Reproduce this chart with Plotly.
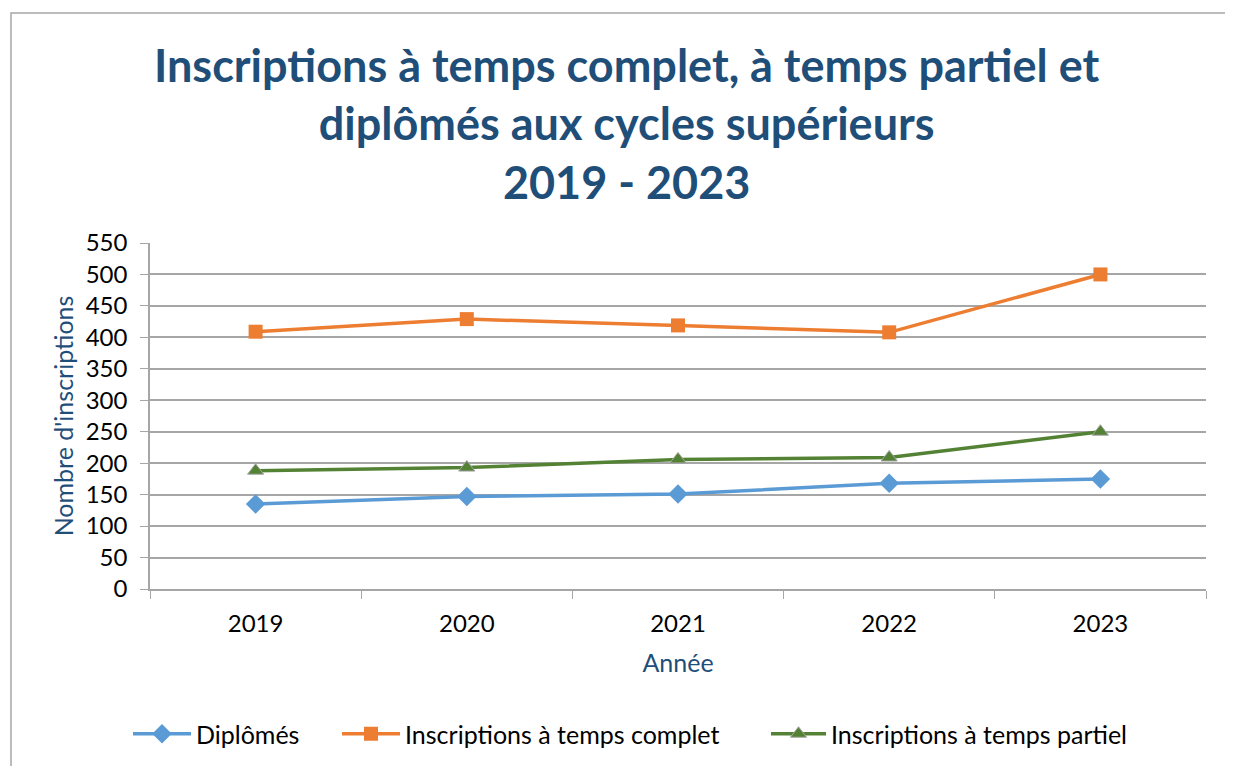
import plotly.graph_objects as go

years = ["2019", "2020", "2021", "2022", "2023"]
diplomes = [135, 147, 151, 168, 175]
temps_complet = [409, 429, 419, 408, 500]
temps_partiel = [188, 193, 206, 209, 250]
y_ticks = list(range(0, 551, 50))

FONT = "Lato"
TITLE_BLUE = "#1F4E79"
GRID = "#A6A6A6"

fig = go.Figure()
fig.add_trace(go.Scatter(x=years, y=diplomes, name="Diplômés", mode="lines+markers", legend="legend",
                         line=dict(color="#5B9BD5", width=3.5),
                         marker=dict(symbol="diamond", size=15, color="#5B9BD5")))
fig.add_trace(go.Scatter(x=years, y=temps_complet, name="Inscriptions à temps complet", mode="lines+markers",
                         legend="legend2",
                         line=dict(color="#ED7D31", width=3.5),
                         marker=dict(symbol="square", size=14, color="#ED7D31")))
fig.add_trace(go.Scatter(x=years, y=temps_partiel, name="Inscriptions à temps partiel", mode="lines+markers",
                         legend="legend3",
                         line=dict(color="#548235", width=3.5),
                         marker=dict(symbol="triangle-up", size=14, color="#548235",
                                     line=dict(color="#A5A5A5", width=1))))

H = 758

def leg(px, w=60):
    return dict(orientation="h", x=(px - 150) / 1056, xanchor="left",
                yref="container", y=1 - (734 - 8) / H, yanchor="middle",
                font=dict(size=25, color="black"), itemwidth=w, bgcolor="rgba(0,0,0,0)")

fig.update_layout(
    width=1225, height=H,
    margin=dict(l=142, r=27, t=235, b=177, autoexpand=False),
    paper_bgcolor="white", plot_bgcolor="white",
    font=dict(family=FONT, color="black", size=24),
    title=dict(text="Inscriptions à temps complet, à temps partiel et<br>diplômés aux cycles supérieurs<br>2019 - 2023",
               x=0.505, xanchor="center", y=0.903, yanchor="middle",
               font=dict(family=FONT, size=45, color=TITLE_BLUE, weight="bold")),
    showlegend=True,
    legend=leg(128, 58), legend2=leg(337, 58), legend3=leg(766, 55),
    xaxis=dict(type="category", range=[-0.5, 4.5], tickson="boundaries", ticks="outside", ticklen=8,
               tickcolor=GRID, showline=True, linecolor=GRID, linewidth=1.5, showgrid=False,
               ticklabelstandoff=12, automargin=False,
               tickfont=dict(size=24), title=dict(text="Année", font=dict(size=25, color=TITLE_BLUE), standoff=19)),
    yaxis=dict(range=[0, 550], tickvals=y_ticks, ticks="outside", ticklen=8, tickcolor=GRID,
               showline=True, linecolor=GRID, linewidth=1.5, showgrid=True, gridcolor=GRID, gridwidth=1.5,
               zeroline=False, tickfont=dict(size=24), ticklabelstandoff=8, automargin=False,
               title=dict(text="Nombre d'inscriptions", font=dict(size=25, color=TITLE_BLUE), standoff=5)),
)

fig.add_shape(type="rect", xref="paper", yref="paper", x0=(11 - 150) / 1056, x1=1.2,
              y0=-0.8, y1=1 + (243 - 13) / 346, line=dict(color="#A6A6A6", width=1.5), layer="below")

fig.write_html("out.html")
